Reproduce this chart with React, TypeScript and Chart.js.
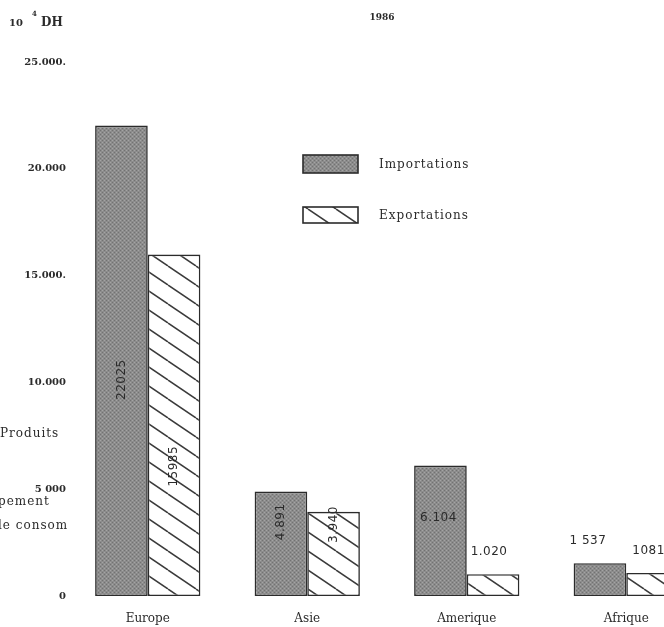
import React, { useEffect, useRef } from "react";
import { Chart, registerables } from "chart.js";

Chart.register(...registerables);

const categories = ["Europe", "Asie", "Amerique", "Afrique"];
const importations = [22025, 4891, 6104, 1537];
const exportations = [15985, 3940, 1020, 1081];
const importLabels = ["22025", "4.891", "6.104", "1 537"];
const exportLabels = ["15985", "3.940", "1.020", "1081"];
const importLabelModes = ["rotated", "rotated", "inside", "above"];
const exportLabelModes = ["rotated", "rotated", "above", "above"];
// fraction of the bar height (from its base) where an inner label sits
const importLabelFrac = [0.46, 0.71, 0.6, 0];
const exportLabelFrac = [0.38, 0.85, 0, 0];
const yTickValues = [0, 5000, 10000, 15000, 20000, 25000];
const yTickLabels = ["0", "5 000", "10.000", "15.000.", "20.000", "25.000."];
const seriesNames = ["Importations", "Exportations"];
const yearLabel = "1986";
const marginNotes = ["Produits", "pement", "le consom"];

const FONT = "'DejaVu Serif', 'Liberation Serif', serif";
const SANS = "'DejaVu Sans', 'Liberation Sans', sans-serif";
const INK = "#2b2b2b";

function makeImportPattern(): CanvasPattern | string {
  const c = document.createElement("canvas");
  c.width = 4;
  c.height = 4;
  const x = c.getContext("2d");
  if (!x) return "#8a8a8a";
  x.fillStyle = "#8c8c8c";
  x.fillRect(0, 0, 4, 4);
  x.fillStyle = "#a4a4a4";
  x.fillRect(0, 0, 1, 1);
  x.fillRect(2, 2, 1, 1);
  x.fillStyle = "#727272";
  x.fillRect(2, 0, 1, 1);
  x.fillRect(0, 2, 1, 1);
  const p = x.createPattern(c, "repeat");
  return p || "#8a8a8a";
}

function makeHatchPattern(): CanvasPattern | string {
  const w = 28;
  const h = 19;
  const c = document.createElement("canvas");
  c.width = w;
  c.height = h;
  const x = c.getContext("2d");
  if (!x) return "#ffffff";
  x.fillStyle = "#ffffff";
  x.fillRect(0, 0, w, h);
  x.strokeStyle = "#3a3a3a";
  x.lineWidth = 1.5;
  for (const k of [-1, 0, 1]) {
    x.beginPath();
    x.moveTo(0, k * h);
    x.lineTo(w, k * h + h);
    x.stroke();
  }
  const p = x.createPattern(c, "repeat");
  return p || "#ffffff";
}

export default function App() {
  const canvasRef = useRef<HTMLCanvasElement | null>(null);

  useEffect(() => {
    const canvas = canvasRef.current;
    if (!canvas) return;
    const importFill = makeImportPattern();
    const exportFill = makeHatchPattern();

    const annotPlugin = {
      id: "annot",
      afterDatasetsDraw(chart: any) {
        const ctx: CanvasRenderingContext2D = chart.ctx;
        ctx.save();
        (ctx as any).letterSpacing = "0.5px";
        ctx.fillStyle = INK;
        ctx.textAlign = "center";
        ctx.textBaseline = "middle";
        ctx.font = `12px ${SANS}`;
        [0, 1].forEach((di) => {
          const meta = chart.getDatasetMeta(di);
          const labels = di === 0 ? importLabels : exportLabels;
          const modes = di === 0 ? importLabelModes : exportLabelModes;
          const fracs = di === 0 ? importLabelFrac : exportLabelFrac;
          meta.data.forEach((bar: any, i: number) => {
            const { x, y, base } = bar.getProps(["x", "y", "base"], true);
            const mode = modes[i];
            if (mode === "rotated") {
              ctx.save();
              ctx.translate(x, base - (base - y) * fracs[i]);
              ctx.rotate(-Math.PI / 2);
              ctx.fillText(labels[i], 0, 0);
              ctx.restore();
            } else if (mode === "inside") {
              ctx.fillText(labels[i], x - 2, base - (base - y) * fracs[i]);
            } else {
              ctx.fillText(labels[i], x - (di === 0 ? 12 : 4), y - 22);
            }
          });
        });
        ctx.restore();
      },
      afterDraw(chart: any) {
        const ctx: CanvasRenderingContext2D = chart.ctx;
        ctx.save();
        (ctx as any).letterSpacing = "0px";
        ctx.fillStyle = INK;
        ctx.textBaseline = "middle";
        // axis unit
        ctx.textAlign = "left";
        ctx.font = `bold 10px ${FONT}`;
        ctx.fillText("10", 9, 23);
        ctx.font = `bold 7px ${FONT}`;
        ctx.fillText("4", 32, 14);
        ctx.font = `bold 12px ${FONT}`;
        ctx.fillText("DH", 41, 23);
        // year
        ctx.textAlign = "center";
        ctx.font = `bold 9px ${FONT}`;
        ctx.fillText(yearLabel, 382, 18);
        // margin notes (cut-off text from the facing page)
        (ctx as any).letterSpacing = "1px";
        ctx.textAlign = "left";
        ctx.font = `12px ${FONT}`;
        ctx.fillText(marginNotes[0], 0, 434);
        ctx.fillText(marginNotes[1], -2, 502);
        ctx.fillText(marginNotes[2], -2, 526);
        // legend
        const fills = [importFill, exportFill];
        const boxes = [
          [303, 155, 55, 18],
          [303, 207, 55, 16],
        ];
        boxes.forEach((b, i) => {
          ctx.fillStyle = fills[i] as any;
          ctx.fillRect(b[0], b[1], b[2], b[3]);
          ctx.strokeStyle = INK;
          ctx.lineWidth = 1.6;
          ctx.strokeRect(b[0], b[1], b[2], b[3]);
          ctx.fillStyle = INK;
          (ctx as any).letterSpacing = "1px";
          ctx.font = `12px ${FONT}`;
          ctx.textAlign = "left";
          ctx.fillText(seriesNames[i], 379, b[1] + b[3] / 2 + 1);
        });
        ctx.restore();
      },
    };

    const chart = new Chart(canvas, {
      type: "bar",
      data: {
        labels: categories,
        datasets: [
          {
            label: seriesNames[0],
            data: importations,
            backgroundColor: importFill as any,
            borderColor: INK,
            borderWidth: 1.6,
            borderSkipped: false,
          },
          {
            label: seriesNames[1],
            data: exportations,
            backgroundColor: exportFill as any,
            borderColor: INK,
            borderWidth: 1.6,
            borderSkipped: false,
          },
        ],
      },
      options: {
        responsive: false,
        animation: false,
        events: [],
        layout: { padding: { top: 62, left: 0, right: 0, bottom: 0 } },
        datasets: {
          bar: { categoryPercentage: 0.66, barPercentage: 1 },
        },
        plugins: {
          legend: { display: false },
          tooltip: { enabled: false },
          title: { display: false },
        },
        scales: {
          x: {
            grid: { display: false, drawTicks: false },
            border: { display: false },
            ticks: {
              color: INK,
              font: { family: FONT, size: 12 },
              padding: 16,
            },
            afterFit(scale: any) {
              scale.height = 31;
            },
          },
          y: {
            min: 0,
            max: 25000,
            grid: { display: false, drawTicks: false },
            border: { display: false },
            afterBuildTicks(scale: any) {
              scale.ticks = yTickValues.map((v) => ({ value: v }));
            },
            ticks: {
              color: INK,
              font: { family: FONT, size: 10, weight: "bold" },
              padding: 2,
              callback: (v: any) => {
                const idx = yTickValues.indexOf(Number(v));
                return idx >= 0 ? yTickLabels[idx] : "";
              },
            },
            afterFit(scale: any) {
              scale.width = 68;
            },
          },
        },
      },
      plugins: [annotPlugin],
    });

    return () => {
      chart.destroy();
    };
  }, []);

  return (
    <div
      style={{
        position: "fixed",
        left: 0,
        top: 0,
        width: 664,
        height: 627,
        overflow: "hidden",
        background: "#ffffff",
      }}
    >
      <canvas
        ref={canvasRef}
        width={706}
        height={627}
        style={{ width: 706, height: 627, display: "block" }}
      />
    </div>
  );
}
